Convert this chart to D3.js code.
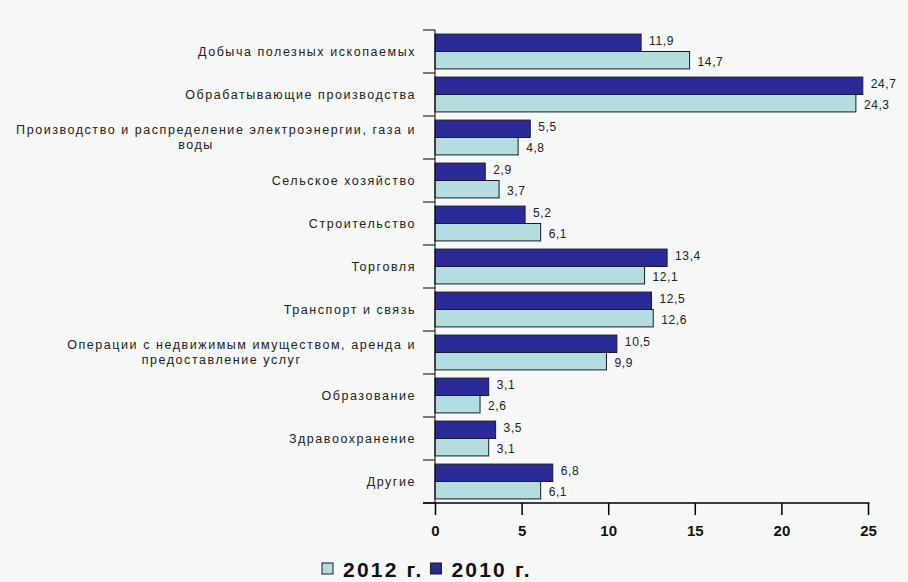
<!DOCTYPE html>
<html>
<head>
<meta charset="utf-8">
<script src="https://cdn.jsdelivr.net/npm/d3@7"></script>
<style>
  body { margin: 0; background: #f5f8f6; }
  svg { display: block; font-family: "Liberation Sans", Arial, sans-serif; }
</style>
</head>
<body>
<div id="chart"></div>
<script>
// categories (multi-line labels split with |)
var categories = [
  "Добыча полезных ископаемых",
  "Обрабатывающие производства",
  "Производство и распределение электроэнергии, газа и|воды",
  "Сельское хозяйство",
  "Строительство",
  "Торговля",
  "Транспорт и связь",
  "Операции с недвижимым имуществом, аренда и|предоставление услуг",
  "Образование",
  "Здравоохранение",
  "Другие"
];
var values2010 = [11.9, 24.7, 5.5, 2.9, 5.2, 13.4, 12.5, 10.5, 3.1, 3.5, 6.8];
var values2012 = [14.7, 24.3, 4.8, 3.7, 6.1, 12.1, 12.6, 9.9, 2.6, 3.1, 6.1];
var seriesNames = ["2010 г.", "2012 г."];
var xTicks = [0, 5, 10, 15, 20, 25];

var w = 908, h = 582;
var colors = { "2010 г.": "#2b2b98", "2012 г.": "#b4dde0" };

var svg = d3.select('#chart').append('svg')
  .attr('width', w)
  .attr('height', h);

svg.append('rect').attr('width', w).attr('height', h).attr('fill', '#f5f8f6');

var x = d3.scaleLinear().domain([0, 25]).range([435, 868]);
var y = d3.scaleBand().domain(d3.range(categories.length))
  .range([30, 503]).paddingInner(0.19).paddingOuter(0.095);
var ySub = d3.scaleBand().domain(seriesNames).range([0, y.bandwidth()]);

var rows = categories.map(function(c, i) {
  return { cat: c, i: i, vals: [
    { s: "2010 г.", v: values2010[i] },
    { s: "2012 г.", v: values2012[i] }
  ]};
});

var groups = svg.selectAll('g.row')
  .data(rows)
  .enter().append('g')
  .attr('class', 'row')
  .attr('transform', function(d) { return 'translate(0,' + y(d.i) + ')'; });

groups.selectAll('rect')
  .data(function(d) { return d.vals; })
  .enter().append('rect')
  .attr('x', x(0))
  .attr('y', function(d) { return ySub(d.s); })
  .attr('width', function(d) { return x(d.v) - x(0); })
  .attr('height', ySub.bandwidth())
  .attr('fill', function(d) { return colors[d.s]; })
  .attr('stroke', '#1a1a2a')
  .attr('stroke-width', 1);

// value labels
groups.selectAll('text.val')
  .data(function(d) { return d.vals; })
  .enter().append('text')
  .attr('class', 'val')
  .attr('x', function(d) { return x(d.v) + 8; })
  .attr('y', function(d) { return ySub(d.s) + ySub.bandwidth() / 2 + (d.s == "2010 г." ? -2 : 2); })
  .attr('dy', '0.35em')
  .attr('font-size', 12)
  .attr('letter-spacing', 0.6)
  .attr('fill', '#222')
  .text(function(d) { return String(d.v).replace('.', ','); });

// category labels
var step = y.step();
groups.each(function(d) {
  var g = d3.select(this);
  var lines = d.cat.split('|');
  var cy = y.bandwidth() / 2;
  var t = g.append('text')
    .attr('font-size', 12.5)
    .attr('letter-spacing', 1.55)
    .attr('fill', '#222');
  if (lines.length == 1) {
    t.attr('x', 416).attr('y', cy).attr('dy', '0.35em')
      .attr('text-anchor', 'end').text(lines[0]);
  } else {
    var spans = lines.map(function(l, k) {
      return t.append('tspan').attr('y', cy + (k - 0.5) * 15).attr('dy', '0.35em').text(l);
    });
    var widest = d3.max(spans, function(s) { return s.node().getComputedTextLength(); });
    var cx = 416 - widest / 2;
    spans.forEach(function(s, k) {
      // second line sits a little left of centre in the original
      s.attr('x', k == 0 ? cx : cx - 20).attr('text-anchor', 'middle');
    });
  }
});

// y axis: vertical line + boundary ticks
svg.append('line')
  .attr('x1', x(0)).attr('x2', x(0))
  .attr('y1', 30).attr('y2', 503)
  .attr('stroke', '#000');
svg.selectAll('line.ytick')
  .data(d3.range(categories.length + 1))
  .enter().append('line')
  .attr('class', 'ytick')
  .attr('x1', 423).attr('x2', x(0))
  .attr('y1', function(d) { return 30 + d * step; })
  .attr('y2', function(d) { return 30 + d * step; })
  .attr('stroke', '#000');

// x axis
var xAxis = d3.axisBottom(x).tickValues(xTicks).tickSize(12).tickPadding(10)
  .tickFormat(d3.format('d'));
var xg = svg.append('g').attr('transform', 'translate(0,503)').call(xAxis);
xg.select('.domain').attr('d', 'M423,0H' + (x(25) + 1.5));
xg.selectAll('line').attr('stroke', '#000').attr('stroke-width', 1.5);
xg.select('.domain').attr('stroke', '#000').attr('stroke-width', 1.5);
xg.selectAll('text')
  .attr('font-family', '"Liberation Sans", Arial, sans-serif')
  .attr('font-size', 15)
  .attr('font-weight', 'bold')
  .attr('fill', '#111');

// legend
var legendData = ["2012 г.", "2010 г."];
var lx = 322;
var legend = svg.append('g');
legendData.forEach(function(s) {
  legend.append('rect')
    .attr('x', lx).attr('y', 563)
    .attr('width', 11).attr('height', 11)
    .attr('fill', colors[s]).attr('stroke', '#1a1a2a');
  var t = legend.append('text')
    .attr('x', lx + 21).attr('y', 569.5)
    .attr('dy', '0.35em')
    .attr('font-size', 21)
    .attr('font-weight', 'bold')
    .attr('letter-spacing', 2.2)
    .attr('fill', '#111')
    .text(s);
  lx += 21 + t.node().getComputedTextLength() + 7;
});
</script>
</body>
</html>
